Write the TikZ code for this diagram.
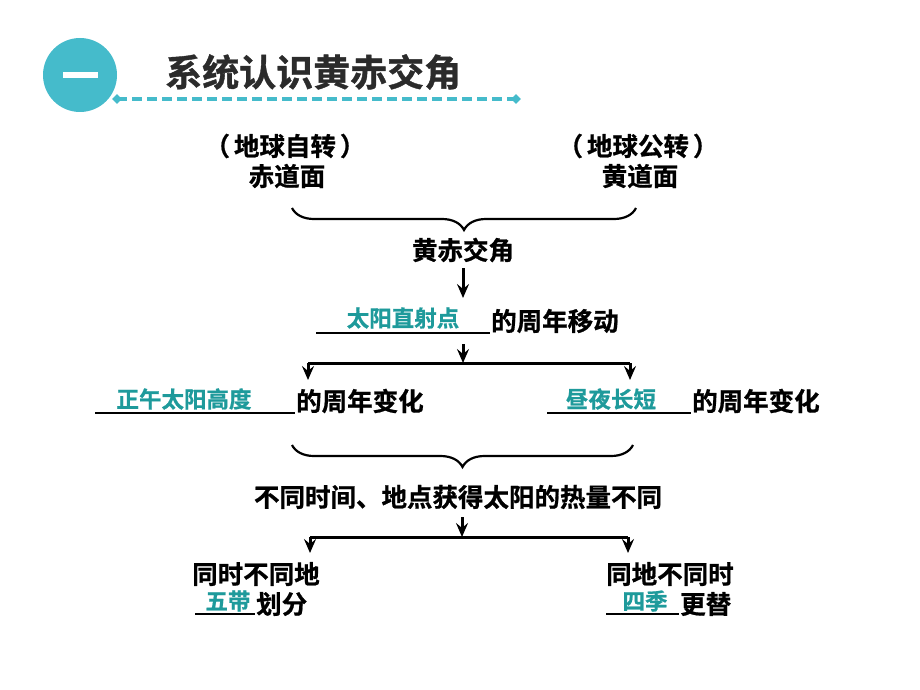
\documentclass[tikz,border=0pt]{standalone}
\usepackage{fontspec}
\setmainfont{Noto Sans CJK SC}[BoldFont={* Bold}]
\newfontfamily\cjkb{Noto Sans CJK SC Bold}[FakeBold=0.8]
\newfontfamily\cjkt{Noto Sans CJK SC Bold}[FakeBold=1.0]
\usetikzlibrary{arrows.meta,decorations.pathreplacing,shapes.geometric}
\definecolor{tealc}{HTML}{45BBCB}
\definecolor{tealt}{HTML}{1E9A9B}
\definecolor{titlec}{HTML}{2B2B2B}
\tikzset{
  x=1pt,y=-1pt,
  blk/.style={font=\cjkb\fontsize{25.5}{28}\selectfont, text=black, inner sep=0pt},
  ans/.style={font=\cjkb\fontsize{22.5}{25}\selectfont, text=tealt, inner sep=0pt},
  arr/.style={line width=3pt,-{Stealth[length=14pt,width=12pt,inset=5pt]}},
  ln/.style={line width=3pt},
  ul/.style={line width=1.4pt},
  brc/.style={line width=2.2pt,decorate,decoration={brace,amplitude=22pt,mirror,aspect=0.5}},
}
\begin{document}
\begin{tikzpicture}
\useasboundingbox (0,0) rectangle (920,690);
% header
\node[circle,fill=tealc,minimum size=74pt,inner sep=0pt] (circ) at (80,75) {};
\fill[white] (63,72.5) rectangle (98,78.5);
\node[anchor=west,font=\cjkt\fontsize{37}{40}\selectfont,text=titlec,inner sep=0pt] (title) at (165,72) {系统认识黄赤交角};
\coordinate (dl) at (117,99);
\coordinate (dr) at (516,99);
\draw[tealc,line width=3.5pt,dash pattern=on 10pt off 5pt] (dl) -- (dr);
\node[diamond,fill=tealc,minimum size=10pt,inner sep=0pt] (dml) at (dl) {};
\node[diamond,fill=tealc,minimum size=10pt,inner sep=0pt] (dmr) at (dr) {};
% top level
\node[blk] (a1) at (285,146) {（\hspace{4pt}地球自转\hspace{4pt}）};
\node[blk] (a2) at (287,176) {赤道面};
\node[blk] (b1) at (638,146) {（\hspace{4pt}地球公转\hspace{4pt}）};
\node[blk] (b2) at (640,176) {黄道面};
\coordinate (br1l) at (292,208);
\coordinate (br1r) at (636,208);
\draw[brc] (br1l) -- (br1r);
\node[blk] (hc) at (463,250) {黄赤交角};
\coordinate (h0) at (463,268);
\coordinate (h1) at (463,298);
\draw[arr] (h0) -- (h1);
% direct sun point
\coordinate (u1l) at (316,333);
\coordinate (u1r) at (490,333);
\draw[ul] (u1l) -- (u1r);
\node[ans] (zs) at (403,318) {太阳直射点};
\node[blk,anchor=west] (zsr) at (491,321) {的周年移动};
\coordinate (s0) at (463,344);
\coordinate (s1) at (463,363);
\draw[arr] (s0) -- (s1);
\coordinate (sl) at (308,363);
\coordinate (sr) at (630,363);
\draw[ln] (sl) -- (sr);
\coordinate (sl2) at (308,380);
\coordinate (sr2) at (630,380);
\draw[arr] (sl) -- (sl2);
\draw[arr] (sr) -- (sr2);
% second level
\coordinate (u2l) at (95,413);
\coordinate (u2r) at (295,413);
\draw[ul] (u2l) -- (u2r);
\node[ans] (zw) at (184,399) {正午太阳高度};
\node[blk,anchor=west] (zwr) at (296,401) {的周年变化};
\coordinate (u3l) at (547,413);
\coordinate (u3r) at (691,413);
\draw[ul] (u3l) -- (u3r);
\node[ans] (zy) at (611,399) {昼夜长短};
\node[blk,anchor=west] (zyr) at (692,401) {的周年变化};
\coordinate (br2l) at (292,445);
\coordinate (br2r) at (633,445);
\draw[brc] (br2l) -- (br2r);
\node[blk] (bt) at (458,497) {不同时间、地点获得太阳的热量不同};
\coordinate (t0) at (462,517);
\coordinate (t1) at (462,537);
\draw[arr] (t0) -- (t1);
\coordinate (tl) at (310,537);
\coordinate (tr) at (628,537);
\draw[ln] (tl) -- (tr);
\coordinate (tl2) at (310,553);
\coordinate (tr2) at (628,553);
\draw[arr] (tl) -- (tl2);
\draw[arr] (tr) -- (tr2);
% bottom
\node[blk,anchor=west] (c1) at (192,574) {同时不同地};
\coordinate (u4l) at (195,614);
\coordinate (u4r) at (255,614);
\draw[ul] (u4l) -- (u4r);
\node[ans] (wd) at (228,601) {五带};
\node[blk,anchor=west] (wdr) at (256,604) {划分};
\node[blk,anchor=west] (d1) at (606,574) {同地不同时};
\coordinate (u5l) at (606,614);
\coordinate (u5r) at (679,614);
\draw[ul] (u5l) -- (u5r);
\node[ans] (sj) at (645,601) {四季};
\node[blk,anchor=west] (sjr) at (680,604) {更替};
\end{tikzpicture}
\end{document}
